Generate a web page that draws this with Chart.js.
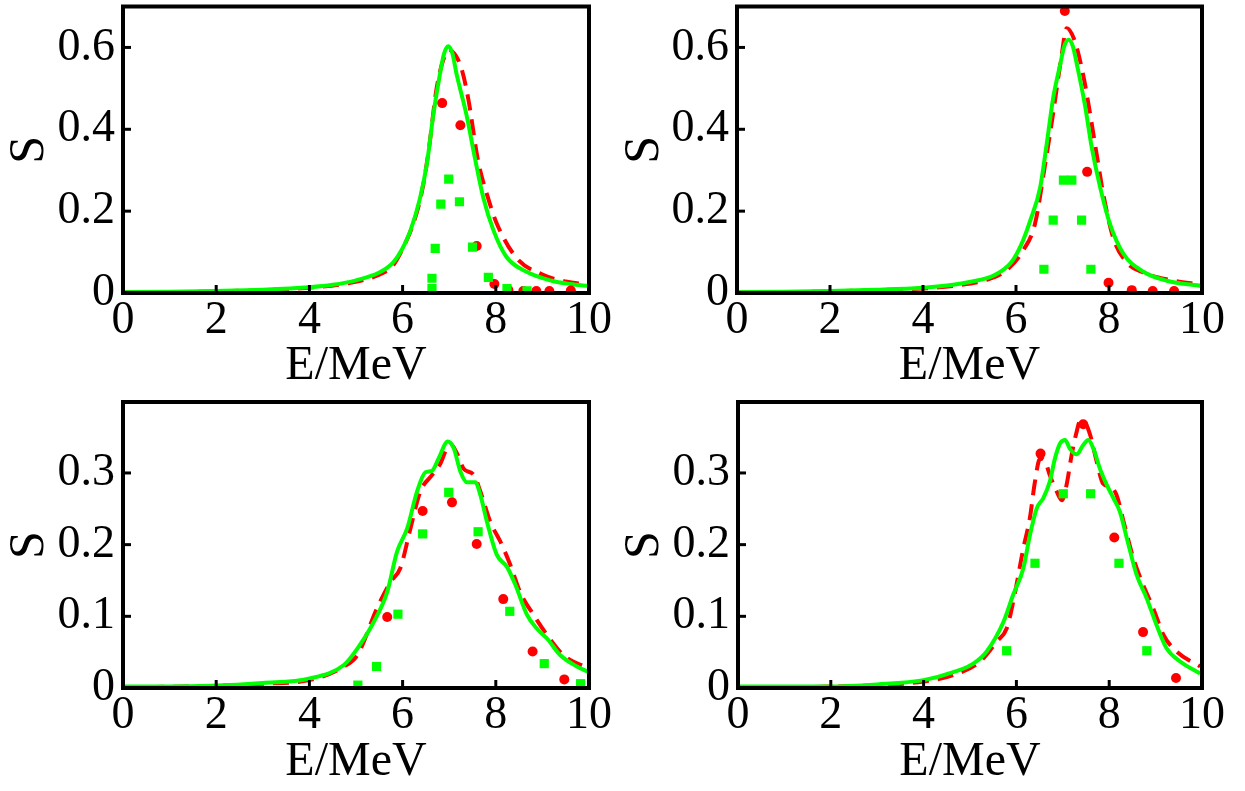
<!DOCTYPE html>
<html>
<head>
<meta charset="utf-8">
<script src="https://cdn.jsdelivr.net/npm/chart.js@4.4.1/dist/chart.umd.min.js"></script>
<style>
  body { margin: 0; background: #fff; }
  .panel { position: absolute; }
</style>
</head>
<body>
<div class="panel" style="left:0;top:0;width:620px;height:395px"><canvas id="c1"></canvas></div>
<div class="panel" style="left:615px;top:0;width:630px;height:395px"><canvas id="c2"></canvas></div>
<div class="panel" style="left:0;top:395px;width:620px;height:396px"><canvas id="c3"></canvas></div>
<div class="panel" style="left:615px;top:395px;width:630px;height:396px"><canvas id="c4"></canvas></div>
<script>
// tick labels
const xTicks = [0, 2, 4, 6, 8, 10];
const yTicksTop = [0, 0.2, 0.4, 0.6];
const yTicksBottom = [0, 0.1, 0.2, 0.3];

// panel 1 (top left)
const p1GreenE = [0, 1, 2, 3, 4, 4.5, 5, 5.5, 5.8, 5.98, 6.16, 6.37, 6.52, 6.66, 6.80, 6.89, 6.98, 7.07, 7.16, 7.37, 7.55, 7.73, 7.95, 8.23, 8.66, 9.2, 9.6, 10];
const p1GreenS = [0.002, 0.003, 0.005, 0.008, 0.014, 0.02, 0.031, 0.05, 0.075, 0.105, 0.15, 0.23, 0.315, 0.436, 0.534, 0.585, 0.603, 0.585, 0.534, 0.436, 0.331, 0.234, 0.153, 0.088, 0.052, 0.03, 0.022, 0.017];
const p1RedE = [0, 1, 2, 3, 4, 4.74, 5.5, 5.8, 6.05, 6.2, 6.4, 6.55, 6.73, 6.88, 7.0, 7.14, 7.27, 7.41, 7.62, 7.84, 8.02, 8.45, 9.0, 9.5, 10];
const p1RedS = [0.001, 0.002, 0.004, 0.007, 0.013, 0.022, 0.045, 0.068, 0.12, 0.16, 0.24, 0.34, 0.50, 0.572, 0.594, 0.58, 0.546, 0.474, 0.323, 0.23, 0.17, 0.085, 0.045, 0.028, 0.02];
const p1DotE = [6.85, 7.24, 7.59, 7.97, 8.27, 8.59, 8.87, 9.15, 9.61];
const p1DotS = [0.464, 0.41, 0.115, 0.022, 0.007, 0.005, 0.005, 0.005, 0.006];
const p1SqE = [6.63, 6.63, 6.70, 6.82, 6.99, 7.22, 7.50, 7.84, 8.24, 8.67];
const p1SqS = [0.011, 0.036, 0.109, 0.217, 0.278, 0.223, 0.112, 0.038, 0.011, 0.005];

// panel 2 (top right)
const p2GreenE = [0, 1, 2, 3, 4, 4.65, 5.0, 5.51, 5.9, 6.12, 6.30, 6.52, 6.66, 6.80, 6.95, 7.04, 7.13, 7.22, 7.31, 7.48, 7.63, 7.81, 8.02, 8.31, 8.74, 9.24, 10];
const p2GreenS = [0.002, 0.003, 0.005, 0.008, 0.013, 0.02, 0.027, 0.042, 0.075, 0.12, 0.175, 0.258, 0.364, 0.477, 0.558, 0.604, 0.619, 0.604, 0.558, 0.461, 0.355, 0.258, 0.169, 0.096, 0.052, 0.03, 0.017];
const p2RedE = [0, 1, 2, 3, 4, 4.7, 5.37, 5.8, 6.16, 6.41, 6.62, 6.80, 6.98, 7.09, 7.25, 7.45, 7.59, 7.74, 7.88, 8.09, 8.38, 8.74, 9.3, 10];
const p2RedS = [0.001, 0.002, 0.004, 0.007, 0.011, 0.018, 0.032, 0.056, 0.105, 0.17, 0.31, 0.44, 0.58, 0.647, 0.62, 0.53, 0.44, 0.335, 0.24, 0.135, 0.075, 0.05, 0.032, 0.02];
const p2DotE = [7.05, 7.53, 7.99, 8.49, 8.94, 9.40];
const p2DotS = [0.689, 0.296, 0.025, 0.007, 0.005, 0.005];
const p2SqE = [6.60, 6.80, 7.02, 7.20, 7.41, 7.61];
const p2SqS = [0.058, 0.178, 0.276, 0.276, 0.178, 0.058];

// panel 3 (bottom left)
const p3GreenE = [0, 1, 1.88, 3, 3.98, 4.74, 5.03, 5.38, 5.67, 5.88, 6.10, 6.31, 6.49, 6.63, 6.77, 6.97, 7.10, 7.24, 7.38, 7.56, 7.67, 7.81, 8.02, 8.24, 8.42, 8.67, 8.88, 9.10, 9.38, 9.74, 10];
const p3GreenS = [0.002, 0.002, 0.003, 0.007, 0.013, 0.032, 0.055, 0.092, 0.134, 0.19, 0.223, 0.274, 0.301, 0.303, 0.32, 0.344, 0.334, 0.302, 0.287, 0.287, 0.269, 0.232, 0.186, 0.169, 0.144, 0.102, 0.083, 0.069, 0.046, 0.03, 0.022];
const p3RedE = [0, 2, 3, 4, 4.74, 5.03, 5.45, 5.74, 5.95, 6.17, 6.38, 6.63, 6.81, 7.02, 7.17, 7.31, 7.53, 7.67, 7.88, 8.10, 8.31, 8.52, 8.81, 9.10, 9.45, 10];
const p3RedS = [0.001, 0.003, 0.006, 0.011, 0.03, 0.046, 0.111, 0.148, 0.167, 0.223, 0.274, 0.297, 0.313, 0.341, 0.327, 0.306, 0.297, 0.274, 0.232, 0.204, 0.172, 0.134, 0.102, 0.074, 0.046, 0.027];
const p3DotE = [5.67, 6.43, 7.06, 7.59, 8.16, 8.79, 9.47];
const p3DotS = [0.099, 0.247, 0.259, 0.201, 0.124, 0.051, 0.012];
const p3SqE = [5.04, 5.44, 5.90, 6.43, 6.99, 7.62, 8.30, 9.04, 9.82];
const p3SqS = [0.004, 0.03, 0.103, 0.215, 0.273, 0.218, 0.107, 0.034, 0.006];

// panel 4 (bottom right)
const p4GreenE = [0, 1, 1.98, 3, 4.0, 4.64, 5.07, 5.36, 5.72, 5.93, 6.15, 6.29, 6.44, 6.58, 6.72, 6.83, 6.94, 7.05, 7.15, 7.30, 7.44, 7.55, 7.66, 7.80, 7.95, 8.09, 8.23, 8.38, 8.59, 8.81, 9.02, 9.24, 9.53, 9.96];
const p4GreenS = [0.002, 0.002, 0.002, 0.005, 0.011, 0.022, 0.034, 0.051, 0.092, 0.13, 0.167, 0.213, 0.251, 0.265, 0.288, 0.32, 0.341, 0.346, 0.334, 0.326, 0.339, 0.346, 0.334, 0.306, 0.283, 0.265, 0.246, 0.209, 0.158, 0.125, 0.088, 0.055, 0.037, 0.02];
const p4RedE = [0, 1, 2, 3, 4, 4.64, 5.22, 5.58, 5.79, 5.93, 6.15, 6.29, 6.40, 6.51, 6.62, 6.72, 6.87, 6.98, 7.08, 7.19, 7.30, 7.37, 7.48, 7.59, 7.73, 7.87, 8.02, 8.16, 8.31, 8.52, 8.73, 8.95, 9.17, 9.45, 9.96];
const p4RedS = [0.001, 0.001, 0.002, 0.004, 0.009, 0.018, 0.037, 0.065, 0.083, 0.12, 0.195, 0.237, 0.288, 0.32, 0.316, 0.297, 0.274, 0.262, 0.283, 0.325, 0.358, 0.372, 0.37, 0.353, 0.316, 0.285, 0.281, 0.269, 0.232, 0.181, 0.144, 0.111, 0.074, 0.051, 0.03];
const p4DotE = [6.52, 7.44, 8.11, 8.73, 9.44];
const p4DotS = [0.327, 0.368, 0.21, 0.078, 0.014];
const p4SqE = [5.79, 6.40, 7.01, 7.60, 8.21, 8.81];
const p4SqS = [0.052, 0.174, 0.271, 0.271, 0.174, 0.052];

const GREEN = "#00ff00";
const RED = "#ff0000";
const FONT = "Liberation Serif";

function pts(es, ss) {
    return es.map((e, i) => ({ x: e, y: ss[i] }));
}

// black frame + inward tick marks, Mathematica style
const framePlugin = {
    id: "frame",
    afterDatasetsDraw(chart) {
        const { ctx, chartArea: a, scales } = chart;
        ctx.save();
        ctx.strokeStyle = "#000";
        ctx.lineWidth = 3;
        scales.x.ticks.forEach(t => {
            if (t.value <= scales.x.min || t.value >= scales.x.max) return;
            const px = scales.x.getPixelForValue(t.value);
            ctx.beginPath();
            ctx.moveTo(px, a.bottom);
            ctx.lineTo(px, a.bottom - 8);
            ctx.stroke();
        });
        scales.y.ticks.forEach(t => {
            if (t.value <= scales.y.min) return;
            const py = scales.y.getPixelForValue(t.value);
            ctx.beginPath();
            ctx.moveTo(a.left, py);
            ctx.lineTo(a.left + 8, py);
            ctx.stroke();
        });
        ctx.lineWidth = 4;
        ctx.strokeRect(a.left, a.top, a.right - a.left, a.bottom - a.top);
        ctx.restore();
    }
};

function makePanel(id, p) {
    new Chart(document.getElementById(id), {
        type: "scatter",
        data: {
            datasets: [
                { data: pts(p.sqE, p.sqS), backgroundColor: GREEN, borderWidth: 0,
                  pointStyle: "rect", pointRadius: 6.5 },
                { data: pts(p.dotE, p.dotS), backgroundColor: RED, borderWidth: 0,
                  pointStyle: "circle", pointRadius: 5 },
                { data: pts(p.greenE, p.greenS), showLine: true, borderColor: GREEN,
                  borderWidth: 4, pointRadius: 0, cubicInterpolationMode: "monotone" },
                { data: pts(p.redE, p.redS), showLine: true, borderColor: RED,
                  borderWidth: 4, borderDash: [16, 9], pointRadius: 0,
                  cubicInterpolationMode: "monotone" },
            ]
        },
        options: {
            responsive: true,
            maintainAspectRatio: false,
            animation: false,
            layout: { padding: { left: 0, top: p.top, right: p.right, bottom: 0 } },
            plugins: { legend: { display: false }, tooltip: { enabled: false } },
            scales: {
                x: {
                    type: "linear", min: 0, max: 10,
                    afterBuildTicks: s => { s.ticks = xTicks.map(v => ({ value: v })); },
                    afterFit: s => { s.height = p.xh; s.paddingLeft = 0; s.paddingRight = 0; },
                    grid: { display: false, drawTicks: false },
                    border: { display: false },
                    ticks: { padding: 0, color: "#000", maxRotation: 0, autoSkip: false,
                             font: { family: FONT, size: 46 } },
                    title: { display: true, text: "E/MeV", color: "#000", padding: 0,
                             font: { family: FONT, size: 48 } }
                },
                y: {
                    type: "linear", min: 0, max: p.ymax,
                    afterBuildTicks: s => { s.ticks = p.yTicks.map(v => ({ value: v })); },
                    afterFit: s => { s.width = p.yw; s.paddingTop = 0; s.paddingBottom = 0; },
                    grid: { display: false, drawTicks: false },
                    border: { display: false },
                    ticks: { padding: 8, color: "#000",
                             font: { family: FONT, size: 46 },
                             callback: v => v === 0 ? "0" : v.toFixed(1) },
                    title: { display: true, text: "S", color: "#000", padding: 0,
                             font: { family: FONT, size: 50 } }
                }
            }
        },
        plugins: [framePlugin]
    });
}

makePanel("c1", { greenE: p1GreenE, greenS: p1GreenS, redE: p1RedE, redS: p1RedS,
    dotE: p1DotE, dotS: p1DotS, sqE: p1SqE, sqS: p1SqS,
    ymax: 0.70, yTicks: yTicksTop, top: 5, right: 31, yw: 123, xh: 102 });
makePanel("c2", { greenE: p2GreenE, greenS: p2GreenS, redE: p2RedE, redS: p2RedS,
    dotE: p2DotE, dotS: p2DotS, sqE: p2SqE, sqS: p2SqS,
    ymax: 0.70, yTicks: yTicksTop, top: 5, right: 43, yw: 122, xh: 102 });
makePanel("c3", { greenE: p3GreenE, greenS: p3GreenS, redE: p3RedE, redS: p3RedS,
    dotE: p3DotE, dotS: p3DotS, sqE: p3SqE, sqS: p3SqS,
    ymax: 0.399, yTicks: yTicksBottom, top: 7, right: 31, yw: 123, xh: 103 });
makePanel("c4", { greenE: p4GreenE, greenS: p4GreenS, redE: p4RedE, redS: p4RedS,
    dotE: p4DotE, dotS: p4DotS, sqE: p4SqE, sqS: p4SqS,
    ymax: 0.399, yTicks: yTicksBottom, top: 7, right: 43, yw: 123, xh: 103 });
</script>
</body>
</html>
